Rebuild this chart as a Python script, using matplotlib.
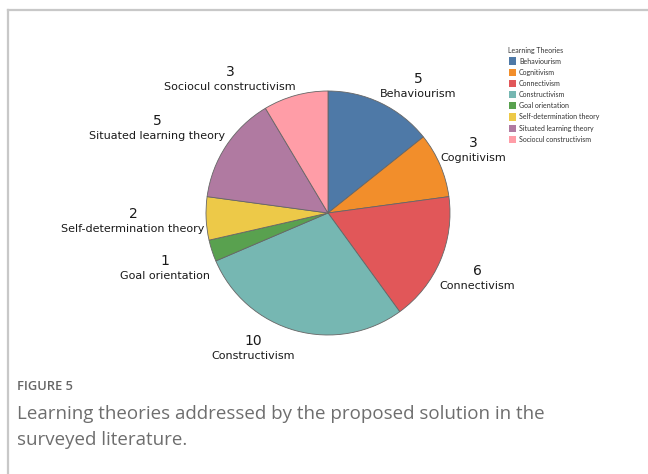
import matplotlib
matplotlib.use("Agg")
import matplotlib.pyplot as plt
from matplotlib.lines import Line2D
from matplotlib.patches import Rectangle

# Learning theories and the number of surveyed papers addressing each
theories = ["Behaviourism", "Cognitivism", "Connectivism", "Constructivism",
            "Goal orientation", "Self-determination theory",
            "Situated learning theory", "Sociocul constructivism"]
counts = [5, 3, 6, 10, 1, 2, 5, 3]
colors = ["#4e79a7", "#f28e2b", "#e15759", "#76b7b2",
          "#59a14f", "#edc948", "#b07aa1", "#ff9da7"]

# centre of each two-line label, in pie-radius units
label_pos = [(0.738, 1.037), (1.189, 0.512), (1.221, -0.533), (-0.615, -1.111),
             (-1.336, -0.451), (-1.598, -0.070), (-1.402, 0.689), (-0.803, 1.094)]

W, H = 648, 474
fig = plt.figure(figsize=(W / 100, H / 100), dpi=100)

# pie centre and radius in pixels
cx, cy, r = 328, 213, 122
ax = fig.add_axes([(cx - r) / W, (H - cy - r) / H, 2 * r / W, 2 * r / H])
ax.pie(counts, colors=colors, startangle=90, counterclock=False, radius=1,
       wedgeprops=dict(edgecolor="#666666", linewidth=0.6))
ax.set_xlim(-1, 1)
ax.set_ylim(-1, 1)
ax.set_aspect("equal")
ax.axis("off")

lh = 7.5 / r
for (x, y), name, n in zip(label_pos, theories, counts):
    ax.text(x, y + lh, str(n), ha="center", va="center", fontsize=10,
            color="#1a1a1a", family="DejaVu Sans", clip_on=False)
    ax.text(x, y - lh, name, ha="center", va="center", fontsize=8,
            color="#1a1a1a", family="DejaVu Sans", clip_on=False)

# legend
def fx(px):
    return px / W

def fy(py):
    return 1 - py / H

fig.text(fx(508), fy(50), "Learning Theories", fontsize=5.0, color="#333333",
         family="Lato", va="center", ha="left")
for i, (name, c) in enumerate(zip(theories, colors)):
    yy = 61 + i * 11.2
    fig.patches.append(Rectangle((fx(509), fy(yy + 3.5)), 7 / W, 7 / H,
                                 transform=fig.transFigure, facecolor=c,
                                 edgecolor="none"))
    fig.text(fx(519), fy(yy), name, fontsize=5.0, color="#333333",
             family="Lato", va="center", ha="left")

# frame around the figure panel
fig.lines.append(Line2D([fx(8), fx(8)], [fy(10), 0], transform=fig.transFigure,
                        color="#c8c8c8", linewidth=1.6))
fig.lines.append(Line2D([fx(8), 1], [fy(10), fy(10)], transform=fig.transFigure,
                        color="#c8c8c8", linewidth=1.6))

# caption
fig.text(fx(17), fy(387), "FIGURE 5", fontsize=9.3, color="#666666",
         family="Open Sans", weight="semibold", va="center", ha="left")
fig.text(fx(17), fy(414), "Learning theories addressed by the proposed solution in the",
         fontsize=13.5, color="#6e6e6e", family="Open Sans", weight="normal",
         va="center", ha="left")
fig.text(fx(17), fy(440), "surveyed literature.",
         fontsize=13.5, color="#6e6e6e", family="Open Sans", weight="normal",
         va="center", ha="left")

fig.savefig("out.png", dpi=100)
